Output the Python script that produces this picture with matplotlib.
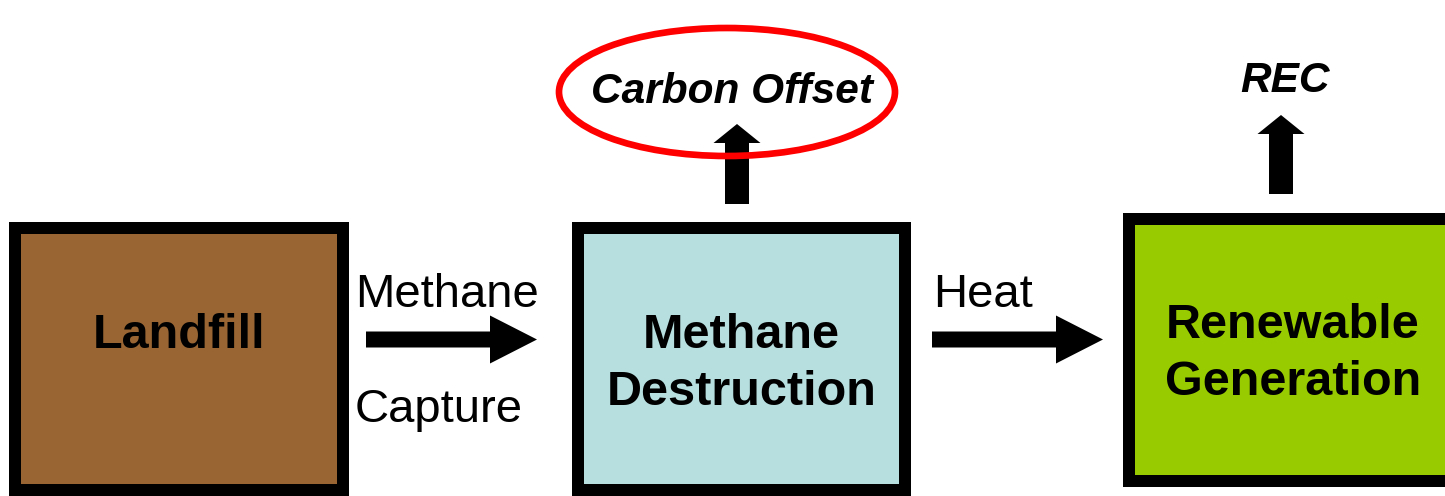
import matplotlib
matplotlib.use('Agg')
import matplotlib.pyplot as plt
from matplotlib.patches import Rectangle, Ellipse, FancyArrow

plt.rcParams['font.family'] = ['Liberation Sans', 'DejaVu Sans']

# boxes of the flow, left to right
box_labels = ['Landfill', 'Methane\nDestruction', 'Renewable\nGeneration']
box_colors = ['#996633', '#B7DFE0', '#99CC00']

# labels on the horizontal arrows
flow_top = ['Methane', 'Heat']
flow_bottom = ['Capture', '']

# outputs above the boxes
outputs = ['Carbon Offset', 'REC']


def main():
    fig = plt.figure(figsize=(14.45, 4.96), dpi=100)
    ax = fig.add_axes([0, 0, 1, 1])
    ax.set_xlim(0, 1445)
    ax.set_ylim(496, 0)
    ax.axis('off')

    # box geometry in pixels (outer left, outer top, outer right, outer bottom)
    boxes = [(9, 222, 349, 496), (572, 222, 911, 496), (1123, 213, 1460, 487)]
    text_y = [335, 364, 354]
    border = 12

    for (x0, y0, x1, y1), lab, col, ty in zip(boxes, box_labels, box_colors, text_y):
        ax.add_patch(Rectangle((x0, y0), x1 - x0, y1 - y0, fc='black', ec='none'))
        ax.add_patch(Rectangle((x0 + border, y0 + border), x1 - x0 - 2 * border,
                               y1 - y0 - 2 * border, fc=col, ec='none'))
        ax.text((x0 + x1) / 2 if x1 < 1445 else 1293, ty, lab, ha='center', va='center',
                fontsize=35, fontweight='bold', linespacing=1.35)

    # horizontal arrows
    h_arrows = [(366, 537), (932, 1103)]
    for (xa, xb) in h_arrows:
        ax.add_patch(FancyArrow(xa, 339.5, xb - xa, 0, width=16, head_width=48,
                                head_length=47, length_includes_head=True,
                                fc='black', ec='none'))

    ax.text(447, 295, flow_top[0], ha='center', va='center', fontsize=34)
    ax.text(439, 410, flow_bottom[0], ha='center', va='center', fontsize=34)
    ax.text(983, 295, flow_top[1], ha='center', va='center', fontsize=34)

    # vertical arrows
    v_arrows = [(737, 204, 124), (1281, 194, 115)]
    for (xc, yb, yt) in v_arrows:
        ax.add_patch(FancyArrow(xc, yb, 0, yt - yb, width=24, head_width=47,
                                head_length=19, length_includes_head=True,
                                fc='black', ec='none'))

    ax.text(732, 92, outputs[0], ha='center', va='center', fontsize=30.5,
            fontweight='bold', style='italic')
    ax.text(1285, 81, outputs[1], ha='center', va='center', fontsize=30.5,
            fontweight='bold', style='italic')

    ax.add_patch(Ellipse((727, 92), 336, 128, fill=False, ec='#FF0000', lw=4.8))

    fig.savefig('out.png', dpi=100)


if __name__ == '__main__':
    main()
